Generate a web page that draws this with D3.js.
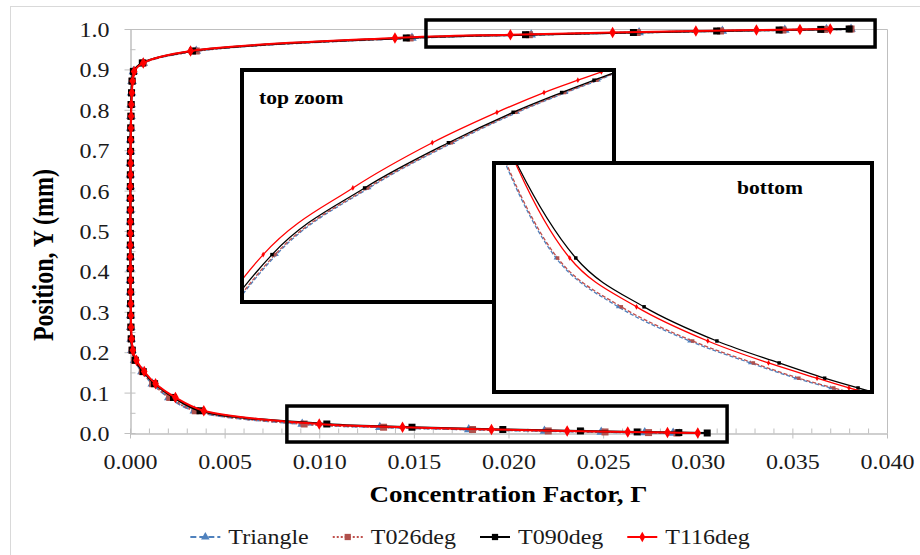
<!DOCTYPE html>
<html>
<head>
<meta charset="utf-8">
<script src="https://cdn.jsdelivr.net/npm/d3@7"></script>
<style>
  body { margin: 0; background: #fff; }
  svg { display: block; }
</style>
</head>
<body>
<svg id="chart" width="920" height="555"></svg>
<script>
// Position across the channel (mm), shared by every case
const positionY = [
  0, 0.001, 0.0026, 0.0051, 0.0087, 0.0143, 0.0223,
  0.055, 0.088, 0.122, 0.152, 0.18, 0.205,
  0.233, 0.262, 0.291, 0.32, 0.349, 0.378, 0.407, 0.436, 0.465, 0.494, 0.523, 0.552,
  0.581, 0.61, 0.639, 0.668, 0.697, 0.726, 0.755, 0.784, 0.813, 0.842, 0.871, 0.895,
  0.916, 0.9455, 0.9778, 0.9859, 0.9914, 0.9951, 0.9975, 0.999, 1.0
];

// Concentration factor for each case, one value per position
const triangleX = [
  0.0287, 0.0272, 0.0249, 0.0219, 0.0179, 0.0132, 0.0091,
  0.0034, 0.00205, 0.00118, 0.00063, 0.00024, 0.0001,
  0.00006, 0.00004, 0.00003, 0.00003, 0.00002, 0.00002, 0.00002, 0.00002, 0.00002, 0.00002, 0.00002, 0.00002,
  0.00002, 0.00002, 0.00002, 0.00002, 0.00003, 0.00003, 0.00004, 0.00005, 0.00006, 0.00008, 0.00011, 0.00018,
  0.0007, 0.0035, 0.0149, 0.0212, 0.0269, 0.0313, 0.0346, 0.0368, 0.0381
];
const t026X = [
  0.0289, 0.0274, 0.0251, 0.0221, 0.0181, 0.0134, 0.0092,
  0.00345, 0.0021, 0.0012, 0.00065, 0.00025, 0.0001,
  0.00006, 0.00004, 0.00003, 0.00003, 0.00002, 0.00002, 0.00002, 0.00002, 0.00002, 0.00002, 0.00002, 0.00002,
  0.00002, 0.00002, 0.00002, 0.00002, 0.00003, 0.00003, 0.00004, 0.00005, 0.00006, 0.00008, 0.00011, 0.00018,
  0.0007, 0.0035, 0.0148, 0.0211, 0.0268, 0.0312, 0.0345, 0.0367, 0.0381
];
const t090X = [
  0.0305, 0.0290, 0.0268, 0.0238, 0.0197, 0.0149, 0.0104,
  0.0037, 0.0023, 0.0013, 0.0007, 0.00028, 0.00012,
  0.00007, 0.00005, 0.00004, 0.00003, 0.00003, 0.00002, 0.00002, 0.00002, 0.00002, 0.00002, 0.00002, 0.00002,
  0.00002, 0.00002, 0.00002, 0.00002, 0.00003, 0.00003, 0.00004, 0.00005, 0.00006, 0.00008, 0.00011, 0.00018,
  0.00065, 0.0033, 0.0146, 0.0209, 0.0266, 0.0310, 0.0343, 0.0365, 0.0380
];
const t116X = [
  0.0300, 0.0284, 0.0263, 0.0231, 0.0191, 0.0144, 0.0100,
  0.0039, 0.0024, 0.00135, 0.00075, 0.00034, 0.00015,
  0.00009, 0.00006, 0.00005, 0.00004, 0.00003, 0.00003, 0.00003, 0.00002, 0.00002, 0.00002, 0.00002, 0.00002,
  0.00002, 0.00002, 0.00003, 0.00003, 0.00003, 0.00004, 0.00005, 0.00006, 0.00007, 0.0001, 0.00014, 0.00022,
  0.0007, 0.0032, 0.0140, 0.0201, 0.0255, 0.0299, 0.0331, 0.0354, 0.0370
];

const seriesNames = ["Triangle", "T026deg", "T090deg", "T116deg"];
const xTickValues = [0, 0.005, 0.010, 0.015, 0.020, 0.025, 0.030, 0.035, 0.040];
const yTickValues = [0, 0.1, 0.2, 0.3, 0.4, 0.5, 0.6, 0.7, 0.8, 0.9, 1.0];
const xTitle = "Concentration Factor, \u0393";
const yTitle = "Position, Y (mm)";
const insetLabels = ["top zoom", "bottom"];

// ---- styling ----
const serif = "'Liberation Serif', 'Times New Roman', Times, serif";
const SX = 1.2;                  // horizontal widening of all lettering
const axisGray = "#BFBFBF";
const styles = [
  { color: "#4F81BD", markColor: "#4F81BD", dash: "6,3", symbol: d3.symbolTriangle, size: 40, lw: 2 },
  { color: "#C0504D", markColor: "#B0504C", dash: "2,2", symbol: d3.symbolSquare, size: 49, lw: 2 },
  { color: "#000000", markColor: "#000000", dash: null, symbol: d3.symbolSquare, size: 49, lw: 2 },
  { color: "#FF0000", markColor: "#FF0000", dash: null, symbol: d3.symbolDiamond, size: 38, lw: 2 }
];
const xSeries = [triangleX, t026X, t090X, t116X];
const series = seriesNames.map((name, i) => ({
  name, style: styles[i],
  points: positionY.map((yv, k) => [xSeries[i][k], yv])
}));

const svg = d3.select("#chart");

// outer chart frame
svg.append("rect").attr("x", 10.5).attr("y", 6.5).attr("width", 940).attr("height", 580)
  .attr("fill", "none").attr("stroke", "#D9D9D9");

const plot = { left: 130, right: 887, top: 29, bottom: 433 };
const x = d3.scaleLinear().domain([0, 0.04]).range([plot.left, plot.right]);
const y = d3.scaleLinear().domain([0, 1]).range([plot.bottom, plot.top]);

// plot frame (top and right edges)
svg.append("path")
  .attr("d", `M${plot.left},${plot.top + 0.5}H${plot.right + 0.5}V${plot.bottom}`)
  .attr("fill", "none").attr("stroke", axisGray);

// x axis: labels + outward major ticks, inward minor ticks
const gx = svg.append("g").attr("transform", `translate(0,${plot.bottom + 0.5})`)
  .call(d3.axisBottom(x).tickValues(xTickValues).tickFormat(d3.format(".3f"))
    .tickSize(5).tickSizeOuter(0).tickPadding(16));
svg.append("g").attr("transform", `translate(0,${plot.bottom + 0.5})`)
  .call(d3.axisTop(x).tickValues(d3.range(0, 0.0405, 0.001)).tickFormat("").tickSize(5).tickSizeOuter(0));

// y axis
const gy = svg.append("g").attr("transform", `translate(${plot.left + 0.5},0)`)
  .call(d3.axisLeft(y).tickValues(yTickValues).tickFormat(d3.format(".1f"))
    .tickSize(6).tickSizeOuter(0));
svg.append("g").attr("transform", `translate(${plot.left + 0.5},0)`)
  .call(d3.axisRight(y).tickValues(d3.range(0, 1.025, 0.05)).tickFormat("").tickSize(5).tickSizeOuter(0));

svg.selectAll(".domain, .tick line").attr("stroke", axisGray);
gx.selectAll("text").style("font-family", serif).attr("font-size", 20).attr("fill", "#1a1a1a")
  .attr("transform", `scale(${SX},1)`);
gy.selectAll("text").style("font-family", serif).attr("font-size", 20).attr("fill", "#1a1a1a")
  .attr("x", -21 / SX).attr("dy", "0.37em").attr("transform", `scale(${SX},1)`);

// axis titles
svg.append("text").attr("transform", `translate(${(plot.left + plot.right) / 2},502) scale(${SX},1)`)
  .attr("text-anchor", "middle").style("font-family", serif).attr("font-weight", "bold")
  .attr("font-size", 22.5).text(xTitle);
svg.append("text").attr("transform", `translate(53,255) scale(${SX},1) rotate(-90)`)
  .attr("text-anchor", "middle").style("font-family", serif).attr("font-weight", "bold")
  .attr("font-size", 24).text(yTitle);

// draw series into a group using given scales
function drawSeries(g, sx, sy, opts) {
  const line = d3.line().x(d => sx(d[0])).y(d => sy(d[1])).curve(d3.curveCatmullRom.alpha(0.5));
  series.forEach(s => {
    const st = s.style;
    g.append("path").attr("d", line(s.points)).attr("fill", "none")
      .attr("stroke", st.color).attr("stroke-width", st.lw * opts.lw)
      .attr("stroke-dasharray", st.dash ? (opts.dash || st.dash) : null);
    g.append("g").selectAll("path").data(s.points).join("path")
      .attr("d", d3.symbol(st.symbol, st.size * opts.marker))
      .attr("transform", d => `translate(${sx(d[0])},${sy(d[1])})`)
      .attr("fill", st.markColor);
  });
}

drawSeries(svg.append("g"), x, y, { lw: 1, marker: 1 });

// highlighted regions of the profile
const highlightBoxes = [
  { x0: 0.01564, x1: 0.03937, y0: 0.9554, y1: 1.0223 },
  { x0: 0.00829, x1: 0.03155, y0: -0.0223, y1: 0.0668 }
];
svg.append("g").selectAll("rect").data(highlightBoxes).join("rect")
  .attr("x", d => x(d.x0)).attr("y", d => y(d.y1))
  .attr("width", d => x(d.x1) - x(d.x0)).attr("height", d => y(d.y0) - y(d.y1))
  .attr("fill", "none").attr("stroke", "#000").attr("stroke-width", 3.5);

// magnified views of the two wall regions
const insets = [
  { label: insetLabels[0], box: [242, 70, 614, 302], xDomain: [0.01256, 0.03786], yDomain: [0.97204, 1.00024], labelAt: [259, 104] },
  { label: insetLabels[1], box: [494, 163, 872, 392], xDomain: [0.00501, 0.02992], yDomain: [0.00034, 0.03787], labelAt: [737, 194] }
];
insets.forEach((ins, i) => {
  const [bx0, by0, bx1, by1] = ins.box;
  const g = svg.append("g");
  g.append("rect").attr("x", bx0).attr("y", by0).attr("width", bx1 - bx0).attr("height", by1 - by0)
    .attr("fill", "#fff");
  const clipId = "inset-clip-" + i;
  g.append("clipPath").attr("id", clipId).append("rect")
    .attr("x", bx0 + 2).attr("y", by0 + 2).attr("width", bx1 - bx0 - 4).attr("height", by1 - by0 - 4);
  const sx = d3.scaleLinear().domain(ins.xDomain).range([bx0, bx1]);
  const sy = d3.scaleLinear().domain(ins.yDomain).range([by1, by0]);
  drawSeries(g.append("g").attr("clip-path", `url(#${clipId})`), sx, sy, { lw: 0.65, marker: 0.25, dash: "4,2" });
  g.append("rect").attr("x", bx0).attr("y", by0).attr("width", bx1 - bx0).attr("height", by1 - by0)
    .attr("fill", "none").attr("stroke", "#000").attr("stroke-width", 4);
  g.append("text").attr("transform", `translate(${ins.labelAt[0]},${ins.labelAt[1]}) scale(${SX},1)`)
    .style("font-family", serif).attr("font-weight", "bold").attr("font-size", 18).text(ins.label);
});

// legend
const legend = svg.append("g");
let cursor = 0;
series.forEach(s => {
  const st = s.style;
  const item = legend.append("g").attr("transform", `translate(${cursor},0)`);
  item.append("line").attr("x1", 0).attr("x2", 30).attr("y1", 0).attr("y2", 0)
    .attr("stroke", st.color).attr("stroke-width", 2).attr("stroke-dasharray", st.dash);
  item.append("path").attr("d", d3.symbol(st.symbol, st.size * 0.8)).attr("transform", "translate(15,0)")
    .attr("fill", st.markColor);
  const t = item.append("text").attr("transform", `translate(38,7) scale(${SX},1)`)
    .style("font-family", serif).attr("font-size", 20).attr("fill", "#1a1a1a").text(s.name);
  cursor += 38 + t.node().getComputedTextLength() * SX + 24;
});
const legendWidth = cursor - 24;
legend.attr("transform", `translate(${470 - legendWidth / 2},537)`);
</script>
</body>
</html>
